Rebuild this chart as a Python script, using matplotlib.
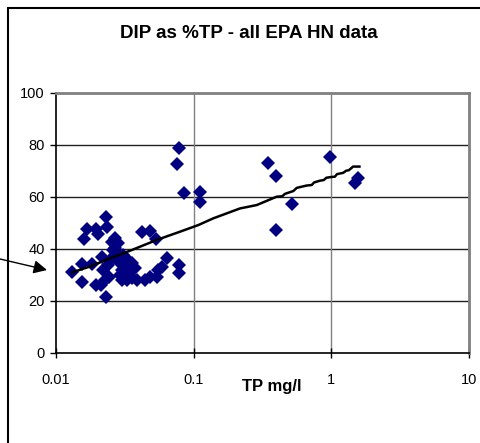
import matplotlib
matplotlib.use("Agg")
import matplotlib.pyplot as plt
from matplotlib.patches import Rectangle

plt.rcParams['font.family'] = ['Liberation Sans', 'DejaVu Sans']

# DIP as % of TP vs TP (mg/l)
tp = [0.0782, 0.0751, 0.0846, 0.111, 0.111, 0.348, 0.394, 0.394, 0.52, 0.977,
      1.55, 1.48, 0.078, 0.078, 0.0131, 0.0155, 0.0155, 0.016, 0.0167, 0.0184,
      0.0194, 0.0203, 0.0194, 0.023, 0.0233, 0.0231, 0.0217, 0.0211, 0.0227, 0.0244,
      0.024, 0.0254, 0.0268, 0.0283, 0.0261, 0.0276, 0.0292, 0.030, 0.0308, 0.0335,
      0.0326, 0.030, 0.0326, 0.0355, 0.0375, 0.0386, 0.0419, 0.0482, 0.0532, 0.0443,
      0.0482, 0.0538, 0.0553, 0.0586, 0.0643, 0.0247, 0.0268, 0.0221, 0.0292, 0.0355,
      0.0326, 0.0268]
dip_pct = [79.0, 72.7, 61.7, 61.8, 58.2, 73.0, 68.1, 47.3, 57.2, 75.3,
           67.3, 65.3, 33.8, 30.9, 31.0, 34.2, 27.4, 43.7, 47.6, 34.2,
           47.6, 45.6, 26.2, 52.2, 48.6, 21.7, 36.8, 26.2, 28.1, 29.3,
           33.8, 42.8, 44.1, 42.2, 39.6, 38.3, 34.5, 31.9, 37.7, 35.8,
           31.3, 28.1, 28.1, 28.7, 32.6, 28.1, 46.4, 46.9, 43.8, 28.1,
           29.3, 29.3, 31.9, 33.2, 36.4, 35.8, 37.7, 31.9, 30.0, 34.5,
           33.8, 40.5]

# moving-average style trend line
trend_x = [0.0131, 0.0175, 0.0247, 0.0355, 0.054, 0.08, 0.108, 0.139, 0.217, 0.287,
           0.40, 0.44, 0.46, 0.53, 0.56, 0.66, 0.72, 0.75, 0.83, 0.88, 0.92, 1.0,
           1.06, 1.1, 1.22, 1.28, 1.34, 1.44, 1.6]
trend_y = [31.0, 33.2, 36.4, 39.6, 43.5, 46.7, 49.2, 51.8, 55.6, 56.9,
           60.1, 60.3, 61.2, 62.3, 63.5, 64.4, 64.6, 65.6, 66.3, 66.5, 67.4, 67.7,
           67.8, 68.8, 69.3, 70.1, 70.3, 71.7, 71.7]

xticks = [0.01, 0.1, 1, 10]
xticklabels = ['0.01', '0.1', '1', '10']
yticks = [0, 20, 40, 60, 80, 100]

fig = plt.figure(figsize=(4.8, 4.43), dpi=100)
ax = fig.add_axes([56/480, 1-353/443, (469-56)/480, (353-93)/443])

ax.set_xscale('log')
ax.set_xlim(0.01, 10)
ax.set_ylim(0, 100)

for y in yticks[1:-1]:
    ax.axhline(y, color='#202020', lw=1.0, zorder=1)
for x in xticks[1:-1]:
    ax.axvline(x, color='#808080', lw=1.0, zorder=1)

ax.plot(trend_x, trend_y, color='black', lw=1.8, zorder=3)
ax.plot(tp, dip_pct, 'D', color='#000080', markersize=7, markeredgewidth=0, zorder=2)

ax.set_xticks(xticks)
ax.set_xticklabels(xticklabels)
ax.xaxis.set_minor_locator(matplotlib.ticker.NullLocator())
ax.set_yticks(yticks)
ax.tick_params(axis='x', direction='inout', length=7, width=1, pad=11, labelsize=10.5)
ax.tick_params(axis='y', direction='out', length=4, width=1, pad=4, labelsize=10.5)

ax.spines['top'].set_color('#808080')
ax.spines['top'].set_linewidth(2)
ax.spines['right'].set_color('#808080')
ax.spines['right'].set_linewidth(2)
ax.spines['left'].set_linewidth(1.2)
ax.spines['bottom'].set_linewidth(1.2)

fig.text(249/480, 1-33/443, 'DIP as %TP - all EPA HN data', ha='center', va='center',
         fontsize=13.5, fontweight='bold')
fig.text(272/480, 1-387/443, 'TP mg/l', ha='center', va='center',
         fontsize=12, fontweight='bold')

# outer chart frame
fig.add_artist(Rectangle((8/480, -0.1), 1.2, 1.1 - 8/443, transform=fig.transFigure,
                         fill=False, edgecolor='black', lw=1.5))

# arrow pointing at the start of the trend line
fig.add_artist(matplotlib.patches.FancyArrowPatch(
    (0/480, 1-259/443), (47/480, 1-270/443), transform=fig.transFigure,
    arrowstyle='-|>,head_length=8,head_width=4', color='black', lw=1.0,
    shrinkA=0, shrinkB=0))

fig.savefig('out.png', dpi=100)
